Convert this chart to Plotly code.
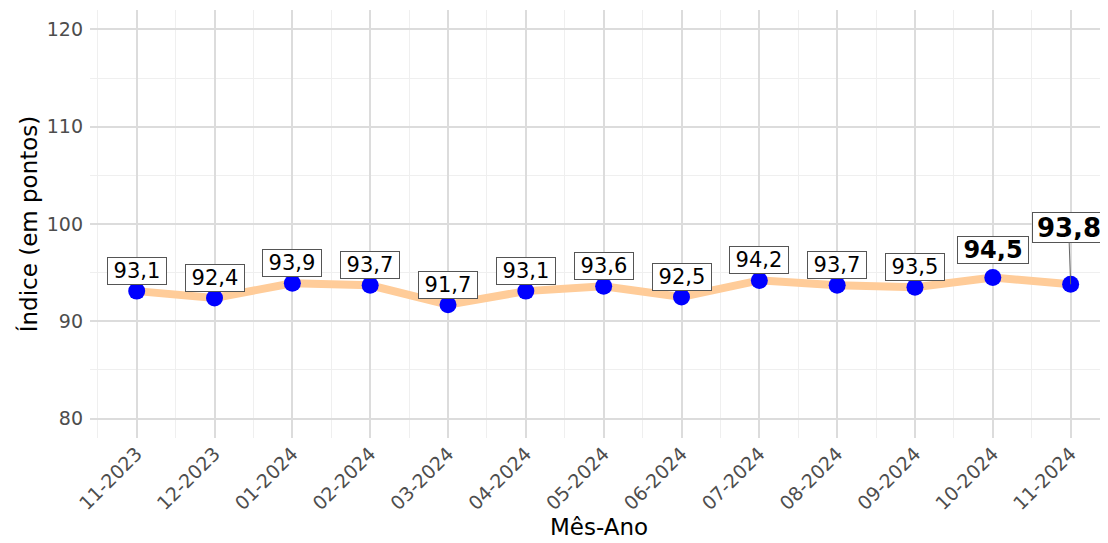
import plotly.graph_objects as go

# dados
meses = ['11-2023', '12-2023', '01-2024', '02-2024', '03-2024', '04-2024', '05-2024',
         '06-2024', '07-2024', '08-2024', '09-2024', '10-2024', '11-2024']
indice = [93.1, 92.4, 93.9, 93.7, 91.7, 93.1, 93.6, 92.5, 94.2, 93.7, 93.5, 94.5, 93.8]

FONTE = 'DejaVu Sans'
pos = list(range(len(meses)))

fig = go.Figure()

fig.add_trace(go.Scatter(
    x=pos, y=indice, mode='lines',
    line=dict(color='#FFCC99', width=8),
    hoverinfo='skip', showlegend=False
))

fig.add_trace(go.Scatter(
    x=pos, y=indice, mode='markers',
    marker=dict(color='#0000FF', size=17),
    customdata=meses,
    hovertemplate='%{customdata}<br>%{y:.1f}<extra></extra>',
    showlegend=False
))

# rótulos
n = len(meses)
for i, v in enumerate(indice):
    texto = f'{v:.1f}'.replace('.', ',')
    destaque = i >= n - 2
    if destaque:
        texto = f'<b>{texto}</b>'
    if i == n - 1:
        fig.add_annotation(
            x=pos[i], y=v, text=texto, showarrow=True, arrowhead=0,
            arrowcolor='#666666', arrowwidth=1, ax=-2, ay=-57,
            standoff=0, startstandoff=0, width=68, height=25,
            font=dict(family=FONTE, size=26, color='black'),
            bgcolor='white', bordercolor='#555555', borderwidth=1, borderpad=2
        )
    else:
        fig.add_annotation(
            x=pos[i], y=v, text=texto, showarrow=False,
            yshift=28 if destaque else 20,
            width=66 if destaque else 54, height=22,
            font=dict(family=FONTE, size=24 if destaque else 21, color='black'),
            bgcolor='white', bordercolor='#555555', borderwidth=1, borderpad=2
        )

# a página tem margem de 8px no body; tamanho e margens compensados
fig.update_layout(
    width=1100, height=535,
    margin=dict(l=82, r=0, t=2, b=105),
    plot_bgcolor='white', paper_bgcolor='white',
    font=dict(family=FONTE),
    xaxis=dict(
        title=dict(text='Mês-Ano', font=dict(size=23, color='black'), standoff=4),
        range=[-0.6, 12.48], tickangle=-45,
        tickvals=pos, ticktext=meses,
        tickfont=dict(size=19, color='#4D4D4D'),
        showgrid=True, gridcolor='#DCDCDC', gridwidth=1.5,
        minor=dict(showgrid=True, tick0=-0.5, dtick=1,
                   gridcolor='#EFEFEF', gridwidth=0.8),
        zeroline=False, showline=False, ticks='', automargin=False
    ),
    yaxis=dict(
        title=dict(text='Índice (em pontos)', font=dict(size=23, color='black'), standoff=2),
        range=[78, 122], tickvals=[80, 90, 100, 110, 120],
        tickfont=dict(size=19, color='#4D4D4D'), ticklabelstandoff=6,
        showgrid=True, gridcolor='#DCDCDC', gridwidth=1.5,
        minor=dict(showgrid=True, tickvals=[85, 95, 105, 115],
                   gridcolor='#EFEFEF', gridwidth=0.8),
        zeroline=False, showline=False, ticks='', automargin=False
    )
)

fig.write_html('out.html')
